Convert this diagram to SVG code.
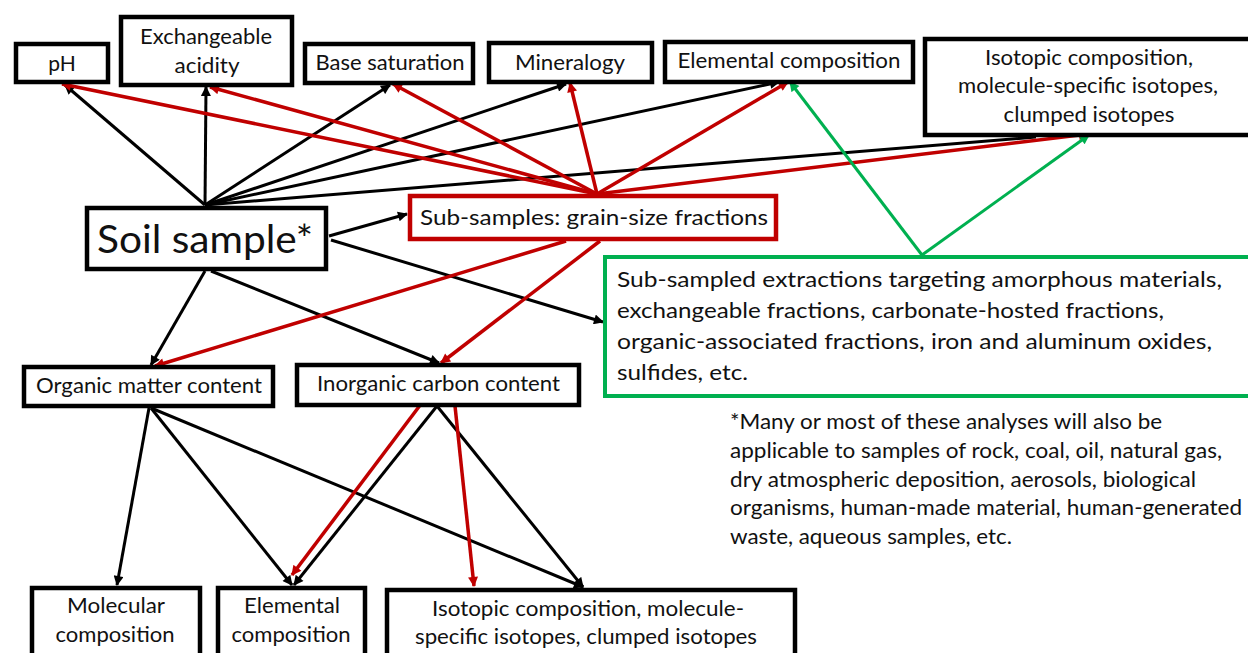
<svg xmlns="http://www.w3.org/2000/svg" width="1248" height="653" viewBox="0 0 1248 653">
<defs>
<style>
text{font-family:Lato,"Open Sans","Liberation Sans",sans-serif;fill:#111;font-size:21px}
.c{text-anchor:middle}
.box{fill:#fff;stroke:#000;stroke-width:4.5}
.rbox{fill:#fff;stroke:#C00000;stroke-width:4.5}
.gbox{fill:#fff;stroke:#00B050;stroke-width:4}
.k{stroke:#000;stroke-width:3;fill:none;marker-end:url(#ak)}
.kn{stroke:#000;stroke-width:3;fill:none}
.r{stroke:#C00000;stroke-width:3.5;fill:none;marker-end:url(#ar)}
.g{stroke:#00B050;stroke-width:3;fill:none;marker-end:url(#ag)}
</style>
<marker id="ak" viewBox="0 0 10 10" refX="9" refY="5" markerWidth="11" markerHeight="10" markerUnits="userSpaceOnUse" orient="auto"><path d="M0,0 L10,5 L0,10 z" fill="#000"/></marker>
<marker id="ar" viewBox="0 0 10 10" refX="9" refY="5" markerWidth="11" markerHeight="10" markerUnits="userSpaceOnUse" orient="auto"><path d="M0,0 L10,5 L0,10 z" fill="#C00000"/></marker>
<marker id="ag" viewBox="0 0 10 10" refX="9" refY="5" markerWidth="11" markerHeight="10" markerUnits="userSpaceOnUse" orient="auto"><path d="M0,0 L10,5 L0,10 z" fill="#00B050"/></marker>
</defs>
<rect width="1248" height="653" fill="#fff"/>

<g id="connectors">
<line class="k" x1="205" y1="205" x2="65" y2="85"/>
<line class="k" x1="205" y1="205" x2="206" y2="87"/>
<line class="k" x1="205" y1="205" x2="390" y2="85"/>
<line class="k" x1="205" y1="205" x2="566" y2="84"/>
<line class="k" x1="205" y1="205" x2="779" y2="82"/>
<line class="kn" x1="205" y1="205" x2="1036" y2="137"/>
<line class="k" x1="329" y1="236" x2="407" y2="214"/>
<line class="k" x1="331" y1="240" x2="603" y2="322"/>
<line class="k" x1="205" y1="271" x2="151" y2="365"/>
<line class="k" x1="211" y1="271" x2="439" y2="363"/>
<line class="r" x1="597" y1="194" x2="62" y2="84"/>
<line class="r" x1="597" y1="194" x2="210" y2="87"/>
<line class="r" x1="597" y1="194" x2="393" y2="84"/>
<line class="r" x1="597" y1="194" x2="570" y2="83"/>
<line class="r" x1="597" y1="194" x2="788" y2="82"/>
<line class="r" x1="597" y1="194" x2="1088" y2="134"/>
<line class="r" x1="566" y1="241" x2="155" y2="366"/>
<line class="r" x1="600" y1="241" x2="441" y2="363"/>
<line class="g" x1="922" y1="255" x2="790" y2="82"/>
<line class="g" x1="922" y1="255" x2="1089" y2="135"/>
<line class="k" x1="149" y1="408" x2="117" y2="585"/>
<line class="k" x1="151" y1="408" x2="292" y2="585"/>
<line class="k" x1="151" y1="408" x2="583" y2="587"/>
<line class="k" x1="437" y1="406" x2="294" y2="585"/>
<line class="k" x1="437" y1="406" x2="583" y2="587"/>
<line class="r" x1="421" y1="404" x2="292" y2="575"/>
<line class="r" x1="455" y1="406" x2="474" y2="586"/>
</g>

<g id="pH"><rect class="box" x="16" y="44" width="92" height="38"/><text class="c" x="62" y="71">pH</text></g>
<g id="exchangeable-acidity"><rect class="box" x="121" y="17" width="171" height="68"/><text class="c" x="206" y="44" textLength="132" lengthAdjust="spacingAndGlyphs">Exchangeable</text><text class="c" x="207" y="73" textLength="65" lengthAdjust="spacingAndGlyphs">acidity</text></g>
<g id="base-saturation"><rect class="box" x="305" y="44" width="168" height="39"/><text class="c" x="390" y="70" textLength="149" lengthAdjust="spacingAndGlyphs">Base saturation</text></g>
<g id="mineralogy"><rect class="box" x="489" y="43" width="163" height="39"/><text class="c" x="570" y="70" textLength="110" lengthAdjust="spacingAndGlyphs">Mineralogy</text></g>
<g id="elemental-top"><rect class="box" x="665" y="42" width="248" height="40"/><text class="c" x="789" y="68" textLength="223" lengthAdjust="spacingAndGlyphs">Elemental composition</text></g>
<g id="isotopic-top"><rect class="box" x="925" y="39" width="330" height="96"/>
<text class="c" x="1089" y="65" textLength="208" lengthAdjust="spacingAndGlyphs">Isotopic composition,</text>
<text class="c" x="1088" y="93" textLength="260" lengthAdjust="spacingAndGlyphs">molecule-specific isotopes,</text>
<text class="c" x="1089" y="122" textLength="171" lengthAdjust="spacingAndGlyphs">clumped isotopes</text></g>

<g id="soil-sample"><rect class="box" x="87" y="208" width="239" height="61"/><text x="97" y="253" style="font-size:38px" textLength="216" lengthAdjust="spacingAndGlyphs">Soil sample*</text></g>
<g id="sub-samples"><rect class="rbox" x="410" y="196" width="366" height="43"/><text x="420" y="225" textLength="348" lengthAdjust="spacingAndGlyphs">Sub-samples: grain-size fractions</text></g>
<g id="extractions"><rect class="gbox" x="605" y="257" width="645" height="139"/>
<text x="617" y="287" textLength="605" lengthAdjust="spacingAndGlyphs">Sub-sampled extractions targeting amorphous materials,</text>
<text x="617" y="318" textLength="547" lengthAdjust="spacingAndGlyphs">exchangeable fractions, carbonate-hosted fractions,</text>
<text x="617" y="349" textLength="595" lengthAdjust="spacingAndGlyphs">organic-associated fractions, iron and aluminum oxides,</text>
<text x="617" y="380" textLength="131" lengthAdjust="spacingAndGlyphs">sulfides, etc.</text></g>

<g id="footnote">
<text x="730" y="429" textLength="432" lengthAdjust="spacingAndGlyphs">*Many or most of these analyses will also be</text>
<text x="730" y="458" textLength="492" lengthAdjust="spacingAndGlyphs">applicable to samples of rock, coal, oil, natural gas,</text>
<text x="730" y="487" textLength="466" lengthAdjust="spacingAndGlyphs">dry atmospheric deposition, aerosols, biological</text>
<text x="730" y="515" textLength="512" lengthAdjust="spacingAndGlyphs">organisms, human-made material, human-generated</text>
<text x="730" y="544" textLength="282" lengthAdjust="spacingAndGlyphs">waste, aqueous samples, etc.</text>
</g>

<g id="organic-matter"><rect class="box" x="24" y="367" width="249" height="39"/><text x="36" y="393" textLength="226" lengthAdjust="spacingAndGlyphs">Organic matter content</text></g>
<g id="inorganic-carbon"><rect class="box" x="297" y="365" width="282" height="40"/><text x="317" y="391" textLength="243" lengthAdjust="spacingAndGlyphs">Inorganic carbon content</text></g>

<g id="molecular"><rect class="box" x="32" y="588" width="168" height="70"/><text class="c" x="116" y="613" textLength="98" lengthAdjust="spacingAndGlyphs">Molecular</text><text class="c" x="115" y="642" textLength="119" lengthAdjust="spacingAndGlyphs">composition</text></g>
<g id="elemental-bottom"><rect class="box" x="218" y="588" width="147" height="70"/><text class="c" x="292" y="613" textLength="96" lengthAdjust="spacingAndGlyphs">Elemental</text><text class="c" x="291" y="642" textLength="119" lengthAdjust="spacingAndGlyphs">composition</text></g>
<g id="isotopic-bottom"><rect class="box" x="387" y="590" width="408" height="70"/><text class="c" x="588" y="616" textLength="312" lengthAdjust="spacingAndGlyphs">Isotopic composition, molecule-</text><text class="c" x="586" y="644" textLength="342" lengthAdjust="spacingAndGlyphs">specific isotopes, clumped isotopes</text></g>
</svg>
